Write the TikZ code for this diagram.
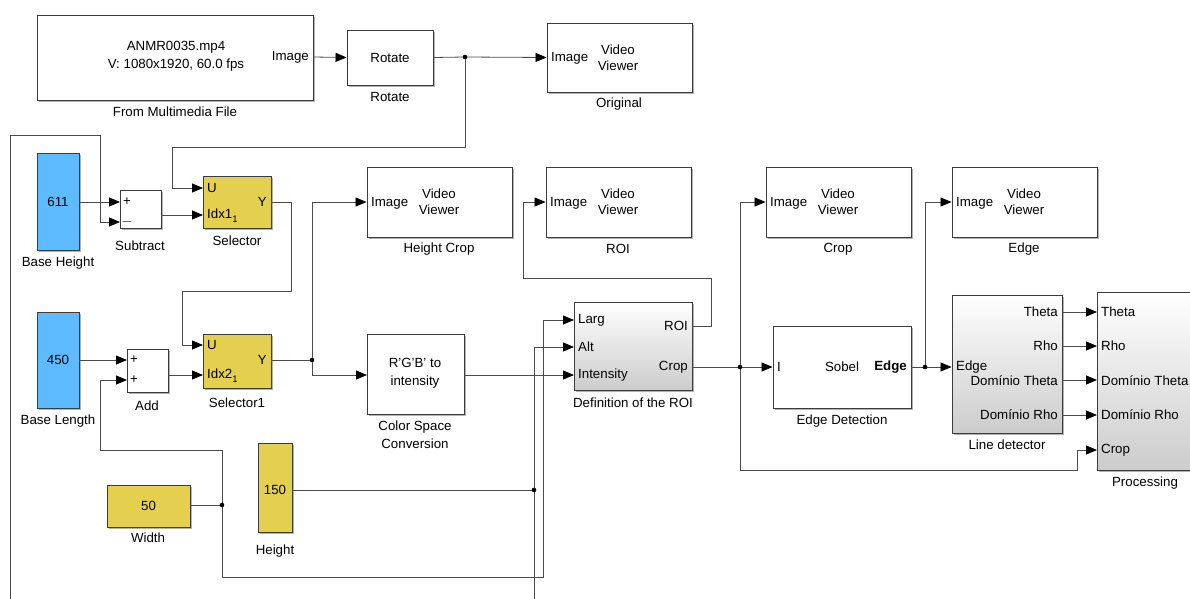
\documentclass[tikz,border=0pt]{standalone}
\usepackage{fontspec}
\setmainfont{Liberation Sans}
\usetikzlibrary{arrows.meta,shadows}
\definecolor{slblue}{RGB}{94,187,255}
\definecolor{slyellow}{RGB}{229,207,79}
\definecolor{wirec}{RGB}{75,75,75}
\definecolor{edgec}{RGB}{60,60,60}
\newcommand\subone{\raisebox{-4pt}{\fontsize{9.5}{9.5}\selectfont 1}}
\begin{document}
\begin{tikzpicture}[x=1pt,y=-1pt,
  every node/.style={font=\fontsize{13.3}{18}\selectfont, inner sep=0pt, text=black},
  blk/.style={draw=edgec, line width=0.9pt, fill=white,
    drop shadow={shadow xshift=1.6pt, shadow yshift=-1.6pt, fill=black!30, opacity=1}},
  gradbk/.style={blk, top color=white, bottom color=black!20},
  bluebk/.style={blk, fill=slblue},
  yellowbk/.style={blk, fill=slyellow},
  vv/.style={align=center, font=\fontsize{13.3}{16}\selectfont},
  ml/.style={align=center},
  wire/.style={draw=wirec, line width=0.8pt},
  arr/.style={wire, -{Triangle[length=11pt,width=9pt,color=black]}},
  dot/.style={fill=black}
]
\useasboundingbox (0,0) rectangle (1190,599);

% ---------- top row ----------
\node[blk, minimum width=276pt, minimum height=85pt] (ff) at (175,57.5) {};
\node[ml] (fft) at (176,56) {ANMR0035.mp4\\V: 1080x1920, 60.0 fps};
\node[anchor=east] (ffp) at (309,57) {Image};
\node (ffl) at (175,112) {From Multimedia File};

\node[blk, minimum width=86pt, minimum height=55pt] (rot) at (390,57.5) {Rotate};
\node (rotl) at (390,97) {Rotate};

\node[blk, minimum width=145pt, minimum height=69pt] (orig) at (619.5,57.5) {};
\node[anchor=west] (origp) at (551,58) {Image};
\node[vv] (origt) at (618,58) {Video\\Viewer};
\node (origl) at (619,104) {Original};

% ---------- constants / sums ----------
\node[bluebk, minimum width=42pt, minimum height=97pt] (bh) at (58,201.5) {};
\node (bht) at (58,202) {611};
\node (bhl) at (58,263) {Base Height};

\node[blk, minimum width=41pt, minimum height=38pt] (sub) at (140.5,209) {};
\node (subp1) at (127,202) {+};
\node (subp2) at (127,222) {$-$};
\node (subl) at (140,246) {Subtract};

\node[bluebk, minimum width=42pt, minimum height=96pt] (bl) at (58,360) {};
\node (blt) at (58,360) {450};
\node (bll) at (58,421) {Base Length};

\node[blk, minimum width=41pt, minimum height=43pt] (add) at (147.5,370.5) {};
\node (addp1) at (134,360) {+};
\node (addp2) at (134,380) {+};
\node (addl) at (147,406) {Add};

% ---------- selectors ----------
\node[yellowbk, minimum width=68pt, minimum height=52pt] (sel) at (237,202) {};
\node[anchor=west] (selu) at (207,188) {U};
\node[anchor=west] (seli) at (207,216) {Idx1\subone};
\node[anchor=east] (sely) at (267,202) {Y};
\node (sell) at (237,241) {Selector};

\node[yellowbk, minimum width=68pt, minimum height=54pt] (sel1) at (237,361) {};
\node[anchor=west] (sel1u) at (207,345) {U};
\node[anchor=west] (sel1i) at (207,376) {Idx2\subone};
\node[anchor=east] (sel1y) at (267,360) {Y};
\node (sel1l) at (237,403) {Selector1};

% ---------- Width / Height ----------
\node[yellowbk, minimum width=83pt, minimum height=42pt] (wd) at (148.5,506) {50};
\node (wdl) at (148,538) {Width};
\node[yellowbk, minimum width=34pt, minimum height=89pt] (ht) at (275,487.5) {};
\node (htt) at (275,490) {150};
\node (htl) at (275,551) {Height};

% ---------- middle viewers ----------
\node[blk, minimum width=145pt, minimum height=70pt] (hc) at (439.5,202) {};
\node[anchor=west] (hcp) at (371,203) {Image};
\node[vv] (hct) at (439,202) {Video\\Viewer};
\node (hcl) at (439,249) {Height Crop};

\node[blk, minimum width=145pt, minimum height=70pt] (rv) at (618.5,202) {};
\node[anchor=west] (rvp) at (550,203) {Image};
\node[vv] (rvt) at (618,202) {Video\\Viewer};
\node (rvl) at (618,249) {ROI};

\node[blk, minimum width=97pt, minimum height=80pt] (csc) at (415.5,374) {};
\node[ml] (csct) at (415,373) {R'G'B' to\\intensity};
\node[ml] (cscl) at (415,435) {Color Space\\Conversion};

% ---------- Definition of the ROI ----------
\node[gradbk, minimum width=118pt, minimum height=88pt] (def) at (633,346) {};
\node[anchor=west] (defa) at (578,320) {Larg};
\node[anchor=west] (defb) at (578,347) {Alt};
\node[anchor=west] (defc) at (578,375) {Intensity};
\node[anchor=east] (defd) at (688,326) {ROI};
\node[anchor=east] (defe) at (688,367) {Crop};
\node (defl) at (633,403) {Definition of the ROI};

% ---------- right side ----------
\node[blk, minimum width=145pt, minimum height=70pt] (cv) at (838.5,202) {};
\node[anchor=west] (cvp) at (770,203) {Image};
\node[vv] (cvt) at (838,202) {Video\\Viewer};
\node (cvl) at (838,249) {Crop};

\node[blk, minimum width=145pt, minimum height=70pt] (ev) at (1024.5,202) {};
\node[anchor=west] (evp) at (956,203) {Image};
\node[vv] (evt) at (1024,202) {Video\\Viewer};
\node (evl) at (1024,249) {Edge};

\node[blk, minimum width=138pt, minimum height=82pt] (ed) at (842,367) {};
\node[anchor=west] (edi) at (777,367) {I};
\node (eds) at (842,367) {Sobel};
\node[anchor=east, font=\fontsize{13.3}{18}\selectfont\bfseries] (ede) at (907,367) {Edge};
\node (edl) at (842,421) {Edge Detection};

\node[gradbk, minimum width=110pt, minimum height=138pt] (ld) at (1007,364) {};
\node[anchor=east] (ld1) at (1058,312) {Theta};
\node[anchor=east] (ld2) at (1058,346) {Rho};
\node[anchor=east] (ld3) at (1058,381) {Domínio Theta};
\node[anchor=east] (ld4) at (1058,415) {Domínio Rho};
\node[anchor=west] (ldi) at (956,367) {Edge};
\node (ldl) at (1007,445) {Line detector};

\node[gradbk, minimum width=100pt, minimum height=178pt] (pr) at (1147,381) {};
\node[anchor=west] (pr1) at (1101,312) {Theta};
\node[anchor=west] (pr2) at (1101,346) {Rho};
\node[anchor=west] (pr3) at (1101,381) {Domínio Theta};
\node[anchor=west] (pr4) at (1101,415) {Domínio Rho};
\node[anchor=west] (pr5) at (1101,450) {Crop};
\node (prl) at (1145,483) {Processing};

% ---------- ports and junctions ----------
\coordinate (ffo) at (313,57);
\coordinate (j1) at (465,57);
\coordinate (selU) at (203,188);
\coordinate (selI) at (203,215);
\coordinate (selY) at (271,202);
\coordinate (subP) at (120,202);
\coordinate (subM) at (120,222);
\coordinate (subO) at (161,215);
\coordinate (botL) at (10,599);
\coordinate (sel1U) at (203,345);
\coordinate (sel1I) at (203,375);
\coordinate (sel1Y) at (271,360);
\coordinate (addA) at (127,360);
\coordinate (addB) at (127,380);
\coordinate (addO) at (168,375);
\coordinate (j2) at (222,505);
\coordinate (j3) at (312,360);
\coordinate (cscI) at (367,375);
\coordinate (cscO) at (464,375);
\coordinate (j4) at (534,490);
\coordinate (botR) at (534,599);
\coordinate (defL) at (574,320);
\coordinate (defA) at (574,347);
\coordinate (defI) at (574,375);
\coordinate (defR) at (692,326);
\coordinate (defC) at (692,367);
\coordinate (j5) at (740,367);
\coordinate (j6) at (925,367);
\coordinate (ldT) at (1062,312);
\coordinate (ldR) at (1062,346);
\coordinate (ldDT) at (1062,380);
\coordinate (ldDR) at (1062,415);
\coordinate (prT) at (1097,312);
\coordinate (prR) at (1097,346);
\coordinate (prDT) at (1097,380);
\coordinate (prDR) at (1097,415);
\coordinate (prC) at (1097,450);

% ---------- wires ----------
\draw[arr] (ffo) -- (rot.west);
\draw[wire] (rot.east) -- (j1);
\draw[arr] (j1) -- (orig.west);
\draw[arr] (j1) -- (465,147) -- (172,147) -- (172,188) -- (selU);

\draw[arr] (bh.east |- subP) -- (subP);
\draw[arr] (botL) -- (10,135) -- (100,135) -- (100,222) -- (subM);
\draw[arr] (subO) -- (selI);
\draw[arr] (selY) -- (291,202) -- (291,291) -- (182,291) -- (182,345) -- (sel1U);

\draw[arr] (bl.east) -- (addA);
\draw[arr] (addO) -- (sel1I);

\draw[wire] (wd.east |- j2) -- (j2);
\draw[arr] (j2) -- (222,450) -- (100,450) -- (100,380) -- (addB);
\draw[arr] (j2) -- (222,577) -- (543,577) -- (543,320) -- (defL);

\draw[wire] (sel1Y) -- (j3);
\draw[arr] (j3) -- (312,202) -- (hc.west);
\draw[arr] (j3) -- (312,375) -- (cscI);
\draw[arr] (cscO) -- (defI);

\draw[wire] (ht.east |- j4) -- (j4);
\draw[arr] (j4) -- (534,347) -- (defA);
\draw[wire] (j4) -- (botR);

\draw[arr] (defR) -- (711,326) -- (711,278) -- (523,278) -- (523,202) -- (rv.west);
\draw[wire] (defC) -- (j5);
\draw[arr] (j5) -- (ed.west);
\draw[arr] (j5) -- (740,202) -- (cv.west);
\draw[arr] (j5) -- (740,470) -- (1077,470) -- (1077,450) -- (prC);

\draw[wire] (ed.east) -- (j6);
\draw[arr] (j6) -- (ld.west |- j6);
\draw[arr] (j6) -- (925,202) -- (ev.west);

\draw[arr] (ldT) -- (prT);
\draw[arr] (ldR) -- (prR);
\draw[arr] (ldDT) -- (prDT);
\draw[arr] (ldDR) -- (prDR);

% ---------- junction dots ----------
\foreach \j in {j1,j2,j3,j4,j5,j6} \fill[dot] (\j) circle (2.3pt);
\end{tikzpicture}
\end{document}
